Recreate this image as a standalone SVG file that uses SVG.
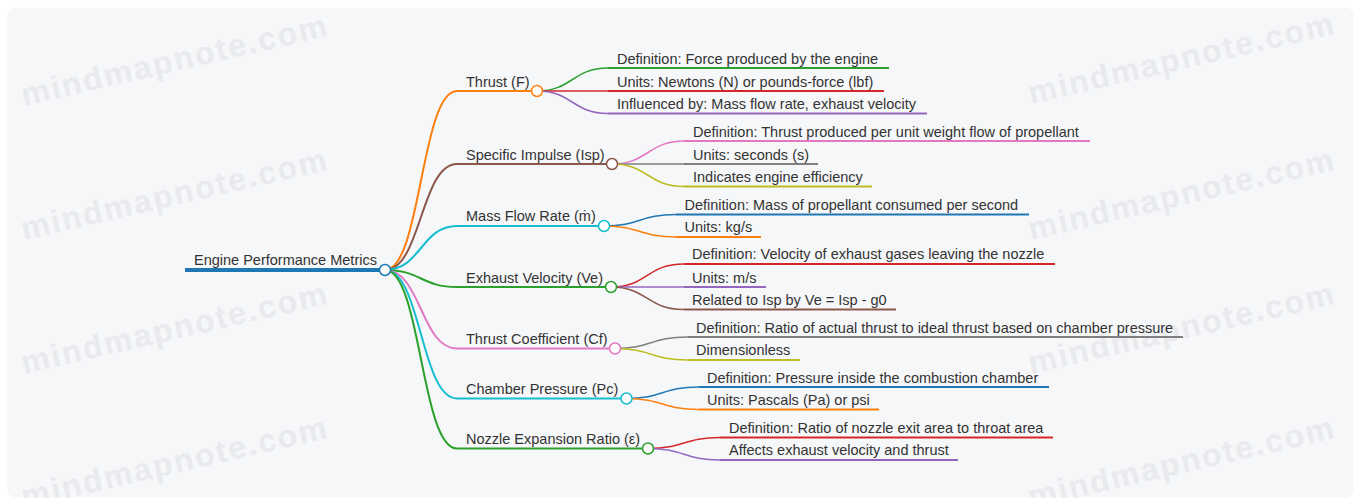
<svg xmlns="http://www.w3.org/2000/svg" width="1361" height="499" viewBox="0 0 1361 499">
<style>
.t{font-family:"Liberation Sans",Arial,sans-serif;font-size:14.5px;fill:#333}
.wm{font-family:"Liberation Sans",Arial,sans-serif;font-size:32px;font-weight:bold;letter-spacing:2px;fill:#e9eaed}
.u{fill:none;stroke-width:2}
.l1{fill:none;stroke-width:2}
.l2{fill:none;stroke-width:1.5}
.c{fill:#fff;stroke-width:1.5}
</style>
<defs><clipPath id="bg"><rect x="7.5" y="7.5" width="1346" height="490" rx="8"/></clipPath></defs>
<rect x="0" y="0" width="1361" height="499" fill="#ffffff"/>
<rect x="7.5" y="7.5" width="1346" height="490" rx="8" fill="#f6f7f9"/>
<g id="watermarks" clip-path="url(#bg)">
<text class="wm" transform="translate(24,106) rotate(-13)">mindmapnote.com</text>
<text class="wm" transform="translate(24,240) rotate(-13)">mindmapnote.com</text>
<text class="wm" transform="translate(24,374) rotate(-13)">mindmapnote.com</text>
<text class="wm" transform="translate(24,508) rotate(-13)">mindmapnote.com</text>
<text class="wm" transform="translate(1031,104) rotate(-13)">mindmapnote.com</text>
<text class="wm" transform="translate(1031,240) rotate(-13)">mindmapnote.com</text>
<text class="wm" transform="translate(1031,374) rotate(-13)">mindmapnote.com</text>
<text class="wm" transform="translate(1031,508) rotate(-13)">mindmapnote.com</text>
</g>
<g id="connectors">
<path class="l1" stroke="#ff7f0e" d="M385,270 C421,270 421,91 457,91"/>
<path class="l1" stroke="#8c564b" d="M385,270 C421,270 421,164 457,164"/>
<path class="l1" stroke="#17becf" d="M385,270 C421,270 421,226 457,226"/>
<path class="l1" stroke="#2ca02c" d="M385,270 C421,270 421,287 457,287"/>
<path class="l1" stroke="#e377c2" d="M385,270 C421,270 421,348.5 457,348.5"/>
<path class="l1" stroke="#17becf" d="M385,270 C421,270 421,398.5 457,398.5"/>
<path class="l1" stroke="#2ca02c" d="M385,270 C421,270 421,448.5 457,448.5"/>
<path class="l2" stroke="#2ca02c" d="M537,91 C572.5,91 572.5,68 608,68"/>
<path class="l2" stroke="#d62728" d="M537,91 C572.5,91 572.5,91 608,91"/>
<path class="l2" stroke="#9467bd" d="M537,91 C572.5,91 572.5,113.5 608,113.5"/>
<path class="l2" stroke="#e377c2" d="M612,164 C648,164 648,141 684,141"/>
<path class="l2" stroke="#7f7f7f" d="M612,164 C648,164 648,164 684,164"/>
<path class="l2" stroke="#bcbd22" d="M612,164 C648,164 648,186.5 684,186.5"/>
<path class="l2" stroke="#1f77b4" d="M604,226 C640,226 640,214.5 676,214.5"/>
<path class="l2" stroke="#ff7f0e" d="M604,226 C640,226 640,237 676,237"/>
<path class="l2" stroke="#d62728" d="M611,287 C647,287 647,264 683.5,264"/>
<path class="l2" stroke="#9467bd" d="M611,287 C647,287 647,287 683.5,287"/>
<path class="l2" stroke="#8c564b" d="M611,287 C647,287 647,309.5 683.5,309.5"/>
<path class="l2" stroke="#7f7f7f" d="M615,348.5 C651,348.5 651,337 687.5,337"/>
<path class="l2" stroke="#bcbd22" d="M615,348.5 C651,348.5 651,360 687.5,360"/>
<path class="l2" stroke="#1f77b4" d="M626.5,398.5 C662.5,398.5 662.5,387 698.5,387"/>
<path class="l2" stroke="#ff7f0e" d="M626.5,398.5 C662.5,398.5 662.5,409.5 698.5,409.5"/>
<path class="l2" stroke="#d62728" d="M648,448.5 C684,448.5 684,437.5 720,437.5"/>
<path class="l2" stroke="#9467bd" d="M648,448.5 C684,448.5 684,460 720,460"/>
</g>
<g id="root">
<line x1="185" y1="270" x2="385" y2="270" stroke="#1f77b4" stroke-width="4"/>
<text class="t" x="194" y="265">Engine Performance Metrics</text>
<circle class="c" cx="385" cy="270" r="5.5" stroke="#1f77b4"/>
</g>
<g id="n-thrust">
<line class="u" x1="457" y1="91" x2="537" y2="91" stroke="#ff7f0e"/>
<text class="t" x="466" y="86.5">Thrust (F)</text>
<circle class="c" cx="537" cy="91" r="5.5" stroke="#ff7f0e"/>
</g>
<g id="n-thrust-def"><line class="u" x1="608" y1="68" x2="889" y2="68" stroke="#2ca02c"/><text class="t" x="617" y="63.5">Definition: Force produced by the engine</text></g>
<g id="n-thrust-units"><line class="u" x1="608" y1="91" x2="884" y2="91" stroke="#d62728"/><text class="t" x="617" y="86.5">Units: Newtons (N) or pounds-force (lbf)</text></g>
<g id="n-thrust-infl"><line class="u" x1="608" y1="113.5" x2="927" y2="113.5" stroke="#9467bd"/><text class="t" x="617" y="109">Influenced by: Mass flow rate, exhaust velocity</text></g>
<g id="n-isp">
<line class="u" x1="457" y1="164" x2="612" y2="164" stroke="#8c564b"/>
<text class="t" x="466" y="159.5">Specific Impulse (Isp)</text>
<circle class="c" cx="612" cy="164" r="5.5" stroke="#8c564b"/>
</g>
<g id="n-isp-def"><line class="u" x1="684" y1="141" x2="1090" y2="141" stroke="#e377c2"/><text class="t" x="693" y="136.5">Definition: Thrust produced per unit weight flow of propellant</text></g>
<g id="n-isp-units"><line class="u" x1="684" y1="164" x2="818" y2="164" stroke="#7f7f7f"/><text class="t" x="693" y="159.5">Units: seconds (s)</text></g>
<g id="n-isp-eff"><line class="u" x1="684" y1="186.5" x2="872" y2="186.5" stroke="#bcbd22"/><text class="t" x="693" y="182">Indicates engine efficiency</text></g>
<g id="n-mdot">
<line class="u" x1="457" y1="226" x2="604" y2="226" stroke="#17becf"/>
<text class="t" x="466" y="221">Mass Flow Rate (ṁ)</text>
<circle class="c" cx="604" cy="226" r="5.5" stroke="#17becf"/>
</g>
<g id="n-mdot-def"><line class="u" x1="676" y1="214.5" x2="1029" y2="214.5" stroke="#1f77b4"/><text class="t" x="684.5" y="210">Definition: Mass of propellant consumed per second</text></g>
<g id="n-mdot-units"><line class="u" x1="676" y1="237" x2="761" y2="237" stroke="#ff7f0e"/><text class="t" x="684.5" y="232">Units: kg/s</text></g>
<g id="n-ve">
<line class="u" x1="457" y1="287" x2="611" y2="287" stroke="#2ca02c"/>
<text class="t" x="466" y="282.5">Exhaust Velocity (Ve)</text>
<circle class="c" cx="611" cy="287" r="5.5" stroke="#2ca02c"/>
</g>
<g id="n-ve-def"><line class="u" x1="683.5" y1="264" x2="1055" y2="264" stroke="#d62728"/><text class="t" x="692" y="259">Definition: Velocity of exhaust gases leaving the nozzle</text></g>
<g id="n-ve-units"><line class="u" x1="683.5" y1="287" x2="766" y2="287" stroke="#9467bd"/><text class="t" x="692" y="282.5">Units: m/s</text></g>
<g id="n-ve-rel"><line class="u" x1="683.5" y1="309.5" x2="896" y2="309.5" stroke="#8c564b"/><text class="t" x="692" y="305">Related to Isp by Ve = Isp - g0</text></g>
<g id="n-cf">
<line class="u" x1="457" y1="348.5" x2="615" y2="348.5" stroke="#e377c2"/>
<text class="t" x="466" y="344">Thrust Coefficient (Cf)</text>
<circle class="c" cx="615" cy="348.5" r="5.5" stroke="#e377c2"/>
</g>
<g id="n-cf-def"><line class="u" x1="687.5" y1="337" x2="1183" y2="337" stroke="#7f7f7f"/><text class="t" x="696" y="332.5">Definition: Ratio of actual thrust to ideal thrust based on chamber pressure</text></g>
<g id="n-cf-dim"><line class="u" x1="687.5" y1="360" x2="800" y2="360" stroke="#bcbd22"/><text class="t" x="696" y="355">Dimensionless</text></g>
<g id="n-pc">
<line class="u" x1="457" y1="398.5" x2="626.5" y2="398.5" stroke="#17becf"/>
<text class="t" x="466" y="394">Chamber Pressure (Pc)</text>
<circle class="c" cx="626.5" cy="398.5" r="5.5" stroke="#17becf"/>
</g>
<g id="n-pc-def"><line class="u" x1="698.5" y1="387" x2="1049" y2="387" stroke="#1f77b4"/><text class="t" x="707" y="382.5">Definition: Pressure inside the combustion chamber</text></g>
<g id="n-pc-units"><line class="u" x1="698.5" y1="409.5" x2="879" y2="409.5" stroke="#ff7f0e"/><text class="t" x="707" y="405">Units: Pascals (Pa) or psi</text></g>
<g id="n-eps">
<line class="u" x1="457" y1="448.5" x2="648" y2="448.5" stroke="#2ca02c"/>
<text class="t" x="466" y="444">Nozzle Expansion Ratio (ε)</text>
<circle class="c" cx="648" cy="448.5" r="5.5" stroke="#2ca02c"/>
</g>
<g id="n-eps-def"><line class="u" x1="720" y1="437.5" x2="1053" y2="437.5" stroke="#d62728"/><text class="t" x="729" y="433">Definition: Ratio of nozzle exit area to throat area</text></g>
<g id="n-eps-aff"><line class="u" x1="720" y1="460" x2="958" y2="460" stroke="#9467bd"/><text class="t" x="729" y="455">Affects exhaust velocity and thrust</text></g>
</svg>
